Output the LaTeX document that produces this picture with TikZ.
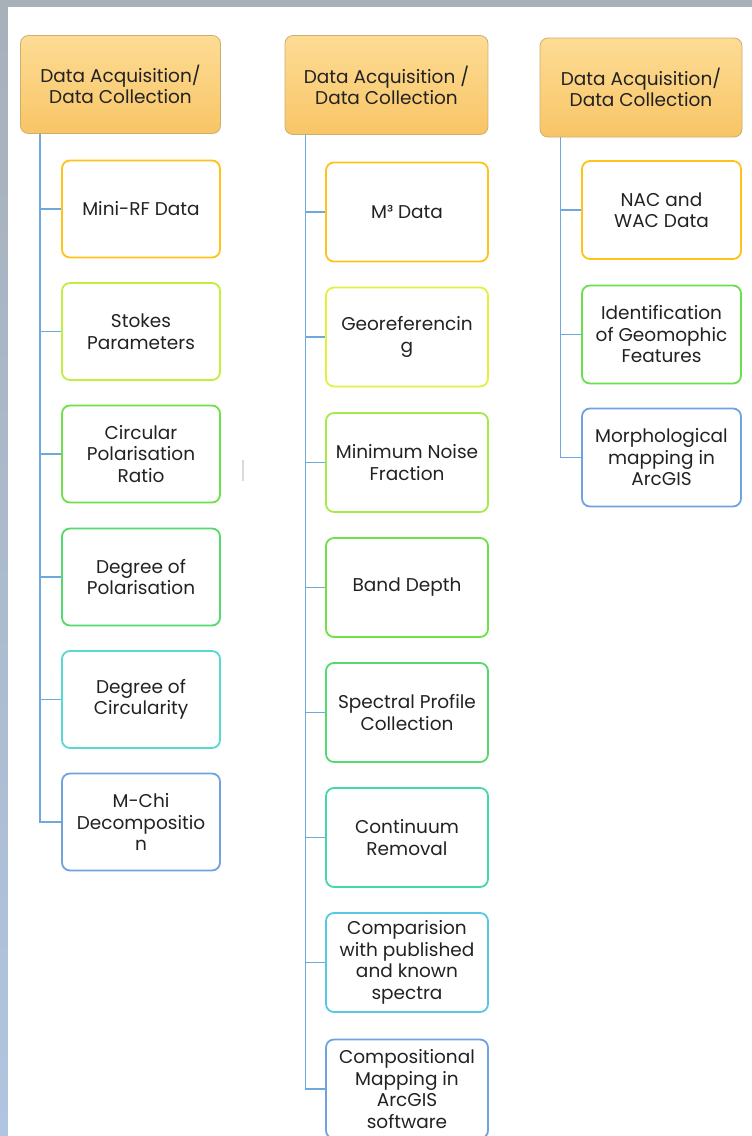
\documentclass[tikz,border=0pt]{standalone}
\usepackage{fontspec}
\setmainfont{Poppins}
\usetikzlibrary{positioning}
\usetikzlibrary{shadings}
\definecolor{framegray}{HTML}{A8B0BA}
\definecolor{frameblue}{HTML}{B0C5E0}
\definecolor{headtop}{HTML}{FDDC95}
\definecolor{headbot}{HTML}{F8C566}
\definecolor{headline}{HTML}{CDAE70}
\definecolor{textgray}{HTML}{222222}
\definecolor{branchblue}{HTML}{6FA8DC}
\definecolor{lvorange}{HTML}{FFC21A}
\definecolor{lvyellow}{HTML}{E2F23C}
\definecolor{lvlime}{HTML}{C2EE40}
\definecolor{lvgrass}{HTML}{A6EA48}
\definecolor{lvgreen}{HTML}{6EE146}
\definecolor{lvmint}{HTML}{52DA6C}
\definecolor{lvsea}{HTML}{44D8A6}
\definecolor{lvcyan}{HTML}{58D8D0}
\definecolor{lvsky}{HTML}{56C8E2}
\definecolor{lvblue}{HTML}{6FA3DE}
\tikzset{head/.style = {draw=headline, line width=0.8pt, rounded corners=8pt,
                        top color=headtop, bottom color=headbot,
                        minimum width=200pt, minimum height=98pt, align=center,
                        text=textgray, font=\fontsize{18.5}{21}\selectfont}}
\tikzset{leaf/.style = {draw=#1, fill=white, line width=1.8pt, rounded corners=8pt,
                        minimum width=158pt, minimum height=97pt, align=center,
                        text=textgray, font=\fontsize{18.5}{21.5}\selectfont}}
\tikzset{wideleaf/.style = {leaf=#1, minimum width=162pt, minimum height=99pt}}
\tikzset{branch/.style = {draw=branchblue, line width=1.6pt}}

\begin{document}
\begin{tikzpicture}[x=1pt, y=-1pt]
      \useasboundingbox (0,0) rectangle (752,1136);
      % slide frame
      \fill [framegray] (0,0) rectangle (752,7);
      \shade [top color=framegray, bottom color=frameblue] (0,7) rectangle (8,1136);
      \fill [white] (8,7) rectangle (752,1136);
      \draw [black!15, line width=1.5pt] (243,460) -- (243,481);
      % column heads
      \node [head] (acqA) at (120.5, 84.5) {Data Acquisition/\\Data Collection};
      \node [head, minimum width=203pt, minimum height=99pt] (acqB) at (386.5, 85) {Data Acquisition /\\Data Collection};
      \node [head, minimum width=202pt, minimum height=99pt] (acqC) at (641, 87.5) {Data Acquisition/\\Data Collection};
      % radar branch
      \node [leaf=lvorange] (miniRF) at (141, 209) {Mini-RF Data};
      \node [leaf=lvlime] (stokes) at (141, 331.5) {Stokes\\Parameters};
      \node [leaf=lvgreen] (cpr) at (141, 454) {Circular\\Polarisation\\Ratio};
      \node [leaf=lvmint] (dop) at (141, 577) {Degree of\\Polarisation};
      \node [leaf=lvcyan] (doc) at (141, 699.5) {Degree of\\Circularity};
      \node [leaf=lvblue] (mchi) at (141, 822) {M-Chi\\Decompositio\\n};
      % spectral branch
      \node [wideleaf=lvorange] (mcube) at (407, 212) {M³ Data};
      \node [wideleaf=lvyellow] (georef) at (407, 337) {Georeferencin\\g};
      \node [wideleaf=lvgrass] (mnf) at (407, 462.5) {Minimum Noise\\Fraction};
      \node [wideleaf=lvgreen] (banddepth) at (407, 587.5) {Band Depth};
      \node [wideleaf=lvmint] (specprof) at (407, 712.5) {Spectral Profile\\Collection};
      \node [wideleaf=lvsea] (contrem) at (407, 837.5) {Continuum\\Removal};
      \node [wideleaf=lvsky] (compare) at (407, 962.5) {Comparision\\with published\\and known\\spectra};
      \node [wideleaf=lvblue] (compmap) at (407, 1089) {Compositional\\Mapping in\\ArcGIS\\software};
      % imagery branch
      \node [leaf=lvorange, minimum width=159pt, minimum height=98pt] (nacwac) at (661.5, 210) {NAC and\\WAC Data};
      \node [leaf=lvgreen!80!lvmint, minimum width=159pt, minimum height=98pt] (geomorph) at (661.5, 334.5) {Identification\\of Geomophic\\Features};
      \node [leaf=lvblue, minimum width=159pt, minimum height=98pt] (morphmap) at (661.5, 457.5) {Morphological\\mapping in\\ArcGIS};
      % connectors
      \foreach \leafname in {miniRF, stokes, cpr, dop, doc, mchi}
        \draw [branch] ([xshift=20pt]acqA.south west) |- (\leafname.west);
      \foreach \leafname in {mcube, georef, mnf, banddepth, specprof, contrem, compare, compmap}
        \draw [branch] ([xshift=21pt]acqB.south west) |- (\leafname.west);
      \foreach \leafname in {nacwac, geomorph, morphmap}
        \draw [branch] ([xshift=21pt]acqC.south west) |- (\leafname.west);
    \end{tikzpicture}
\end{document}
